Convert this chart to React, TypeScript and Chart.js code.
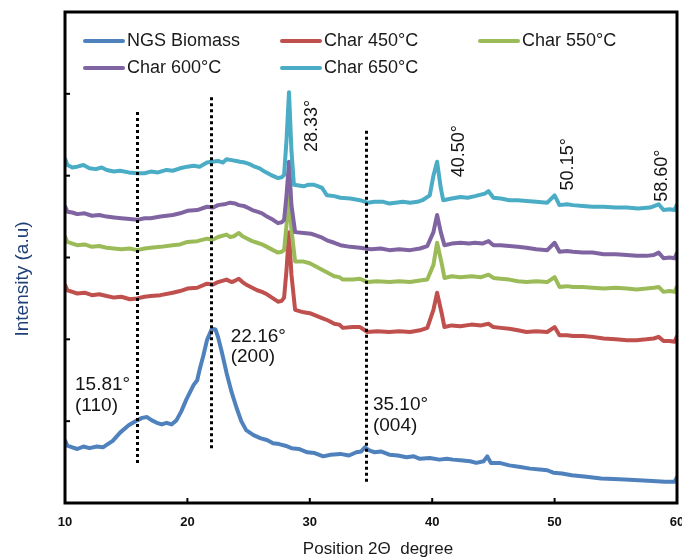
import React, { useEffect, useRef } from "react";
import { Chart, registerables } from "chart.js";

Chart.register(...registerables);

// ---- data (2θ in degrees, intensity in arbitrary units, offset stacked) ----
const seriesNames = ["NGS Biomass", "Char 450°C", "Char 550°C", "Char 600°C", "Char 650°C"];
const seriesColors = ["#4F81BD", "#C0504D", "#9BBB59", "#8064A2", "#4BACC6"];

const ngsBiomass: [number, number][] = [
  [10.02, 76], [10.2, 70], [10.6, 68], [11, 66], [11.5, 69], [12, 67], [12.6, 69], [13.1, 68], [13.4, 71],
  [13.9, 76], [14.5, 86], [15.2, 95], [15.9, 101], [16.3, 104], [16.7, 105], [17.1, 101], [17.5, 98],
  [17.9, 96], [18.3, 98], [18.7, 96], [19.1, 101], [19.5, 112], [19.9, 126], [20.5, 144], [20.8, 150],
  [21.0, 163], [21.3, 180], [21.6, 199], [22.0, 213], [22.3, 212], [22.5, 203], [22.8, 185], [23.2, 159],
  [23.6, 136], [24.0, 117], [24.4, 100], [24.8, 89], [25.4, 83], [26, 79], [26.5, 77], [27, 73], [27.5, 72],
  [28, 70], [28.5, 67], [29.1, 66], [29.8, 62], [30.4, 61], [31.1, 57], [31.7, 59], [32.5, 60], [33.2, 58],
  [33.8, 62], [34.2, 63], [34.5, 68], [34.9, 64], [35.3, 62], [35.8, 63], [36.5, 59], [37.2, 58], [37.9, 56],
  [38.5, 57], [39, 54], [39.8, 55], [40.6, 53], [41.2, 54], [41.7, 53], [42.5, 52], [43.1, 51], [43.6, 49],
  [44.2, 51], [44.5, 57], [44.8, 49], [45.5, 49], [46.3, 46], [47.2, 44], [48, 42], [48.8, 41], [49.4, 40],
  [49.9, 37], [50.6, 36], [51.4, 34], [52.6, 32], [53.8, 30], [55.3, 29], [56.5, 28], [58.0, 27], [59, 26],
  [59.8, 26], [59.98, 31],
];

const char450: [number, number][] = [
  [10.02, 266], [10.2, 260], [10.6, 258], [11, 256], [11.6, 257], [12.2, 254], [12.8, 255], [13.4, 253],
  [14, 251], [14.6, 252], [15.3, 249], [15.9, 250], [16.5, 252], [17, 253], [17.8, 254], [18.8, 257],
  [19.4, 259], [20, 262], [20.8, 263], [21.6, 268], [22.1, 267], [22.5, 270], [23.2, 273], [23.6, 270],
  [23.8, 271], [24.2, 274], [24.5, 270], [24.9, 266], [25.3, 263], [25.7, 260], [26.1, 258], [26.5, 255],
  [27, 250], [27.4, 246], [27.7, 247], [27.9, 251], [28.1, 285], [28.3, 331], [28.5, 279], [28.8, 236],
  [29.5, 233], [30, 232], [30.5, 229], [31, 226], [31.5, 223], [32, 219], [32.4, 218], [32.7, 214],
  [33.5, 215], [34.1, 215], [34.4, 212], [34.7, 209], [35.5, 210], [36.5, 209], [37.3, 210], [38.2, 209],
  [39, 211], [39.6, 214], [40.1, 236], [40.4, 257], [40.8, 230], [41, 215], [41.6, 217], [42.3, 216],
  [43.2, 218], [44, 217], [44.6, 219], [45, 215], [45.6, 214], [46.3, 213], [47, 211], [47.7, 209],
  [48.5, 210], [49.4, 209], [50.0, 215], [50.4, 205], [51, 205], [51.5, 204], [52.3, 204], [53.1, 203],
  [54, 201], [55, 200], [55.9, 199], [56.7, 199], [57.5, 200], [58.1, 201], [58.5, 203], [58.9, 198],
  [59.4, 198], [59.8, 197], [59.98, 203],
];

const char550: [number, number][] = [
  [10.02, 325], [10.2, 319], [10.6, 317], [11, 315], [11.6, 316], [12.2, 313], [12.8, 314], [13.4, 312],
  [14, 311], [14.6, 310], [15.3, 311], [15.9, 309], [16.5, 311], [17, 312], [17.8, 313], [18.8, 315],
  [19.4, 316], [20, 319], [20.8, 320], [21.6, 323], [22.1, 322], [22.5, 325], [23.2, 328], [23.5, 325],
  [23.8, 326], [24.2, 330], [24.5, 326], [24.9, 323], [25.3, 320], [25.7, 318], [26.1, 316], [26.5, 313],
  [27, 309], [27.4, 306], [27.7, 307], [27.9, 309], [28.1, 340], [28.3, 375], [28.5, 334], [28.8, 295],
  [29.5, 295], [30, 293], [30.5, 289], [31, 285], [31.5, 281], [32, 277], [32.4, 276], [32.7, 273],
  [33.5, 273], [34.1, 274], [34.4, 272], [34.7, 270], [35.5, 271], [36.5, 270], [37.3, 271], [38.2, 270],
  [39, 272], [39.6, 273], [40.1, 291], [40.4, 318], [40.8, 291], [41, 275], [41.6, 277], [42.3, 276],
  [43.2, 277], [44, 276], [44.6, 279], [45, 275], [45.6, 274], [46.3, 273], [47, 271], [47.7, 270],
  [48.5, 271], [49.4, 270], [50.0, 276], [50.4, 264], [51, 265], [51.5, 264], [52.3, 264], [53.1, 263],
  [54, 262], [55, 263], [55.9, 262], [56.7, 261], [57.5, 262], [58.1, 263], [58.5, 264], [58.9, 258],
  [59.4, 259], [59.8, 258], [59.98, 264],
];

const char600: [number, number][] = [
  [10.02, 362], [10.2, 356], [10.6, 355], [11, 353], [11.6, 354], [12.2, 351], [12.8, 352], [13.4, 350],
  [14, 349], [14.6, 348], [15.3, 347], [15.9, 346], [16.5, 348], [17, 348], [17.8, 350], [18.8, 352],
  [19.4, 354], [20, 357], [20.8, 358], [21.6, 362], [22.1, 361], [22.5, 364], [23, 365], [23.5, 367],
  [23.9, 366], [24.2, 364], [24.6, 363], [24.9, 361], [25.3, 358], [25.7, 356], [26.1, 354], [26.5, 350],
  [27, 346], [27.4, 342], [27.7, 343], [27.9, 346], [28.1, 376], [28.3, 417], [28.5, 364], [28.8, 331],
  [29.5, 330], [30.1, 329], [30.5, 327], [30.9, 325], [31.4, 321], [32, 318], [32.5, 315], [33.3, 313],
  [34.1, 312], [35, 310], [35.8, 311], [36.5, 309], [37.3, 310], [38.2, 309], [39, 311], [39.6, 314],
  [40.1, 331], [40.4, 352], [40.7, 331], [41, 315], [41.6, 317], [42.3, 318], [43, 317], [43.5, 318],
  [44.1, 317], [44.6, 320], [45, 315], [45.6, 315], [46.3, 314], [47, 313], [47.7, 312], [48.5, 310],
  [49.4, 309], [50.0, 318], [50.4, 307], [51, 308], [51.5, 307], [52.3, 306], [53.1, 306], [54, 304],
  [55, 304], [55.9, 303], [56.7, 302], [57.5, 302], [58.1, 303], [58.5, 306], [58.9, 299], [59.4, 300],
  [59.8, 299], [59.98, 305],
];

const char650: [number, number][] = [
  [10.02, 420], [10.2, 413], [10.6, 410], [11, 411], [11.5, 413], [12, 409], [12.5, 408], [13, 410],
  [13.4, 407], [14, 405], [14.5, 406], [15.2, 404], [15.9, 403], [16.5, 403], [17, 405], [17.6, 404],
  [18.3, 407], [18.8, 406], [19.4, 409], [20, 411], [20.5, 412], [21, 411], [21.6, 416], [22, 417],
  [22.5, 418], [22.9, 416], [23.2, 420], [23.6, 419], [24, 418], [24.3, 417], [24.7, 416], [25.1, 414],
  [25.5, 411], [25.9, 409], [26.3, 405], [26.8, 401], [27.4, 397], [27.7, 398], [27.9, 401], [28.1, 444],
  [28.3, 502], [28.5, 431], [28.7, 389], [29.1, 388], [29.5, 387], [29.9, 389], [30.3, 389], [30.7, 387],
  [31.0, 385], [31.4, 376], [32, 375], [32.5, 373], [33.3, 372], [34.1, 370], [34.7, 367], [35.3, 368],
  [36, 368], [36.5, 366], [37, 367], [37.6, 368], [38.2, 367], [38.8, 368], [39.2, 370], [39.8, 376],
  [40.1, 400], [40.4, 417], [40.7, 385], [40.9, 370], [41.6, 372], [42.3, 374], [42.9, 373], [43.5, 375],
  [44.3, 378], [44.6, 381], [45, 373], [45.6, 372], [46.3, 370], [47, 370], [47.7, 369], [48.5, 368],
  [49.4, 367], [50.0, 376], [50.4, 364], [51, 365], [51.5, 364], [52.3, 363], [53.1, 362], [54, 362],
  [55, 361], [55.9, 361], [56.8, 360], [57.8, 361], [58.5, 365], [58.9, 358], [59.4, 359], [59.8, 358],
  [59.98, 364],
];

const allSeries = [ngsBiomass, char450, char550, char600, char650];

const xTicks = [10, 20, 30, 40, 50, 60];
const yTicks = [0, 100, 200, 300, 400, 500, 600];

// reference lines as drawn: 2θ, from intensity, to intensity
const guideLines: [number, number, number][] = [
  [15.88, 49, 480],
  [21.92, 67, 499],
  [34.62, 26, 458],
];

// horizontal labels: text, 2θ (left), intensity (baseline)
const flatLabels: [string, number, number][] = [
  ["15.81°", 10.82, 138],
  ["(110)", 10.82, 112],
  ["22.16°", 23.54, 197],
  ["(200)", 23.54, 172],
  ["35.10°", 35.16, 114],
  ["(004)", 35.16, 88],
];

// vertical labels: text, 2θ (baseline), intensity (start)
const peakLabels: [string, number, number][] = [
  ["28.33°", 30.59, 429],
  ["40.50°", 42.58, 398],
  ["50.15°", 51.5, 382],
  ["58.60°", 59.18, 368],
];

const xTitle = "Position 2Θ  degree";
const yTitle = "Intensity (a.u)";

const FONT = "'Liberation Sans', Arial, sans-serif";

const decor = {
  id: "decor",
  afterDatasetsDraw(chart: any) {
    const { ctx, chartArea: a, scales } = chart;
    const xs = scales.x;
    const ys = scales.y;
    ctx.save();

    // dotted guide lines
    ctx.strokeStyle = "#000";
    ctx.lineWidth = 3;
    ctx.setLineDash([3, 3]);
    guideLines.forEach(([x, y0, y1]) => {
      const px = Math.round(xs.getPixelForValue(x)) + 0.5;
      ctx.beginPath();
      ctx.moveTo(px, ys.getPixelForValue(y0));
      ctx.lineTo(px, ys.getPixelForValue(y1));
      ctx.stroke();
    });
    ctx.setLineDash([]);

    // flat labels
    ctx.fillStyle = "#141414";
    ctx.font = `19px ${FONT}`;
    ctx.textAlign = "left";
    ctx.textBaseline = "alphabetic";
    flatLabels.forEach(([t, x, y]) => {
      ctx.fillText(t, xs.getPixelForValue(x), ys.getPixelForValue(y));
    });

    // vertical labels
    ctx.font = `18px ${FONT}`;
    peakLabels.forEach(([t, x, y]) => {
      ctx.save();
      ctx.translate(xs.getPixelForValue(x), ys.getPixelForValue(y));
      ctx.rotate(-Math.PI / 2);
      ctx.fillText(t, 0, 0);
      ctx.restore();
    });

    // frame
    ctx.strokeStyle = "#000";
    ctx.lineWidth = 3;
    ctx.strokeRect(a.left, a.top, a.right - a.left, a.bottom - a.top);

    // inward tick marks
    ctx.lineWidth = 2;
    xTicks.forEach((v) => {
      const px = xs.getPixelForValue(v);
      ctx.beginPath();
      ctx.moveTo(px, a.bottom);
      ctx.lineTo(px, a.bottom - 5);
      ctx.stroke();
    });
    yTicks.forEach((v) => {
      const py = ys.getPixelForValue(v);
      ctx.beginPath();
      ctx.moveTo(a.left, py);
      ctx.lineTo(a.left + 5, py);
      ctx.stroke();
    });

    // legend
    const slots = [
      [85, 41],
      [282, 41],
      [480, 41],
      [85, 68],
      [282, 68],
    ];
    ctx.font = `18px ${FONT}`;
    ctx.textBaseline = "middle";
    chart.data.datasets.forEach((ds: any, i: number) => {
      const [lx, ly] = slots[i];
      ctx.strokeStyle = ds.borderColor;
      ctx.lineWidth = 4;
      ctx.lineCap = "round";
      ctx.beginPath();
      ctx.moveTo(lx, ly);
      ctx.lineTo(lx + 38, ly);
      ctx.stroke();
      ctx.fillStyle = "#1a1a1a";
      ctx.fillText(ds.label, lx + 42, ly);
    });

    // axis titles
    ctx.fillStyle = "#1a1a1a";
    ctx.font = `17px ${FONT}`;
    ctx.textAlign = "center";
    ctx.textBaseline = "middle";
    ctx.fillText(xTitle, 378, 549);

    ctx.save();
    ctx.translate(23, 279);
    ctx.rotate(-Math.PI / 2);
    ctx.fillStyle = "#1F3F77";
    ctx.font = `19px ${FONT}`;
    ctx.fillText(yTitle, 0, 0);
    ctx.restore();

    ctx.restore();
  },
};

export default function App() {
  const ref = useRef<HTMLCanvasElement | null>(null);

  useEffect(() => {
    if (!ref.current) return;
    const chart = new Chart(ref.current, {
      type: "line",
      data: {
        datasets: allSeries.map((pts, i) => ({
          label: seriesNames[i],
          data: pts.map(([x, y]) => ({ x, y })),
          borderColor: seriesColors[i],
          backgroundColor: seriesColors[i],
          borderWidth: 4,
          pointRadius: 0,
          tension: 0,
          borderJoinStyle: "round" as const,
          borderCapStyle: "round" as const,
          fill: false,
          order: allSeries.length - i,
        })),
      },
      options: {
        animation: false,
        responsive: false,
        maintainAspectRatio: false,
        layout: { padding: { top: 12, right: 5, left: 0, bottom: 0 } },
        plugins: {
          legend: { display: false },
          tooltip: { enabled: false },
        },
        scales: {
          x: {
            type: "linear",
            min: 10,
            max: 60,
            afterFit: (s: any) => {
              s.height = 57;
              s.paddingLeft = 0;
              s.paddingRight = 0;
            },
            afterBuildTicks: (s: any) => {
              s.ticks = xTicks.map((v) => ({ value: v }));
            },
            grid: { display: false, drawTicks: false },
            border: { display: false },
            ticks: {
              padding: 12,
              color: "#111",
              font: { family: FONT, size: 13, weight: "bold" },
              maxRotation: 0,
            },
          },
          y: {
            type: "linear",
            min: 0,
            max: 600,
            afterFit: (s: any) => {
              s.width = 65;
              s.paddingTop = 0;
              s.paddingBottom = 0;
            },
            grid: { display: false, drawTicks: false },
            border: { display: false },
            ticks: { display: false, stepSize: 100 },
          },
        },
      },
      plugins: [decor],
    });
    return () => chart.destroy();
  }, []);

  return (
    <div style={{ position: "absolute", left: 0, top: 0, width: 682, height: 560, background: "#fff" }}>
      <canvas ref={ref} width={682} height={560} style={{ width: 682, height: 560, display: "block" }} />
    </div>
  );
}
